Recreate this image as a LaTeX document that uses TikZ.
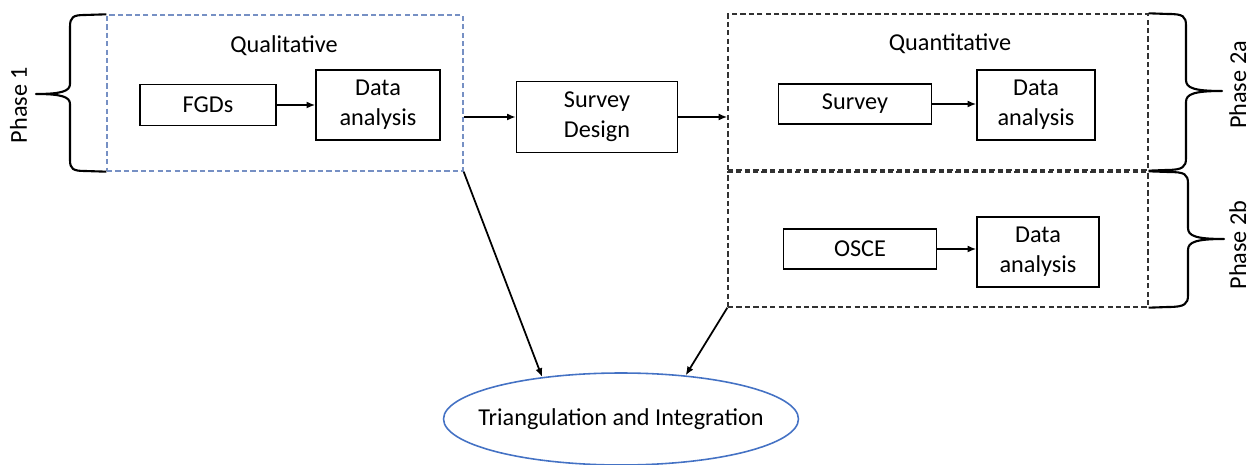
\documentclass[tikz,border=0pt]{standalone}
\usepackage{fontspec}
\setmainfont{Carlito}
\usetikzlibrary{arrows.meta,shapes.geometric}

\definecolor{qualblue}{RGB}{118,144,196}
\definecolor{ellblue}{RGB}{68,114,196}
\definecolor{quantgray}{RGB}{50,50,50}

\tikzset{
  stepbox/.style={draw, line width=0.8pt, align=center, inner sep=0pt},
  groupbox/.style={draw, line width=0.8pt, dash pattern=on 3pt off 1.8pt, inner sep=0pt},
  flow/.style={line width=1pt, -{Latex[length=5pt,width=4pt]}},
  bracepath/.style={line width=1.2pt, line join=round},
  phaselabel/.style={rotate=90, anchor=base, inner sep=0pt},
}

\begin{document}
\begin{tikzpicture}[x=0.02cm, y=-0.02cm, font=\fontsize{13.8}{17}\selectfont]
\useasboundingbox (0,0) rectangle (1250,465);

% Phase 1: qualitative part
\node[groupbox, draw=qualblue, minimum width=7.12cm, minimum height=3.12cm] (qual) at (285,93) {};
\node[anchor=base] (qualtitle) at (284,53) {Qualitative};
\node[stepbox, minimum width=2.72cm, minimum height=0.82cm] (fgd) at (208,105) {FGDs};
\node[stepbox, minimum width=2.48cm, minimum height=1.4cm] (da1) at (378,105) {Data\\analysis};
\draw[flow] (fgd.east) -- (fgd.east -| da1.west);

% Survey design in between
\node[stepbox, minimum width=3.22cm, minimum height=1.42cm] (sd) at (597,117) {Survey\\Design};

% Phase 2a / 2b: quantitative part
\node[groupbox, draw=quantgray, minimum width=8.4cm, minimum height=3.12cm] (quanta) at (938,92) {};
\node[groupbox, draw=quantgray, minimum width=8.4cm, minimum height=2.7cm] (quantb) at (938,239.5) {};
\node[anchor=base] (quanttitle) at (950,51) {Quantitative};
\node[stepbox, minimum width=3.06cm, minimum height=0.8cm] (survey) at (855,104) {Survey};
\node[stepbox, minimum width=2.36cm, minimum height=1.4cm] (da2a) at (1036,105) {Data\\analysis};
\node[stepbox, minimum width=3.06cm, minimum height=0.8cm] (osce) at (860,249) {OSCE};
\node[stepbox, minimum width=2.44cm, minimum height=1.4cm] (da2b) at (1038,252) {Data\\analysis};
\draw[flow] (survey.east) -- (survey.east -| da2a.west);
\draw[flow] (osce.east) -- (osce.east -| da2b.west);

% Links between the phases
\draw[flow] (qual.east |- sd.west) -- (sd.west);
\draw[flow] (sd.east) -- (sd.east -| quanta.west);

% Triangulation (negative xsep keeps the ellipse tight round the text)
\node[ellipse, draw=ellblue, line width=0.9pt, inner xsep=-0.42cm, inner ysep=0pt,
  minimum width=7.1cm, minimum height=1.84cm] (tri) at (621,419) {Triangulation and Integration};
\draw[flow] (qual.south east) -- (tri.152);
\draw[flow] (quantb.south west) -- (tri.34);

% Braces and phase labels
\draw[bracepath] (qual.north west) -- (85,15) .. controls (73,15) and (70,17) .. (70,27) -- (70,84)
  .. controls (70,91) and (62,94) .. (36,94) .. controls (62,94) and (70,97) .. (70,104) -- (70,160)
  .. controls (70,169) and (73,171) .. (85,171) -- (qual.south west);
\draw[bracepath] (quanta.north east) -- (1168,14) .. controls (1183,14) and (1186,16) .. (1186,26) -- (1186,80)
  .. controls (1186,88) and (1194,91) .. (1222,91) .. controls (1194,91) and (1186,94) .. (1186,102) -- (1186,158)
  .. controls (1186,167) and (1183,170) .. (1166,170) -- (quanta.south east);
\draw[bracepath] (quantb.north east) -- (1168,172) .. controls (1185,172) and (1188,174) .. (1188,184) -- (1188,228)
  .. controls (1188,236) and (1196,239) .. (1224,239) .. controls (1196,239) and (1188,242) .. (1188,250) -- (1188,295)
  .. controls (1188,304) and (1185,307) .. (1168,307) -- (quantb.south east);
\node[phaselabel] (ph1) at (27,105) {Phase 1};
\node[phaselabel] (ph2a) at (1246,85) {Phase 2a};
\node[phaselabel] (ph2b) at (1246,245) {Phase 2b};

\end{tikzpicture}
\end{document}
